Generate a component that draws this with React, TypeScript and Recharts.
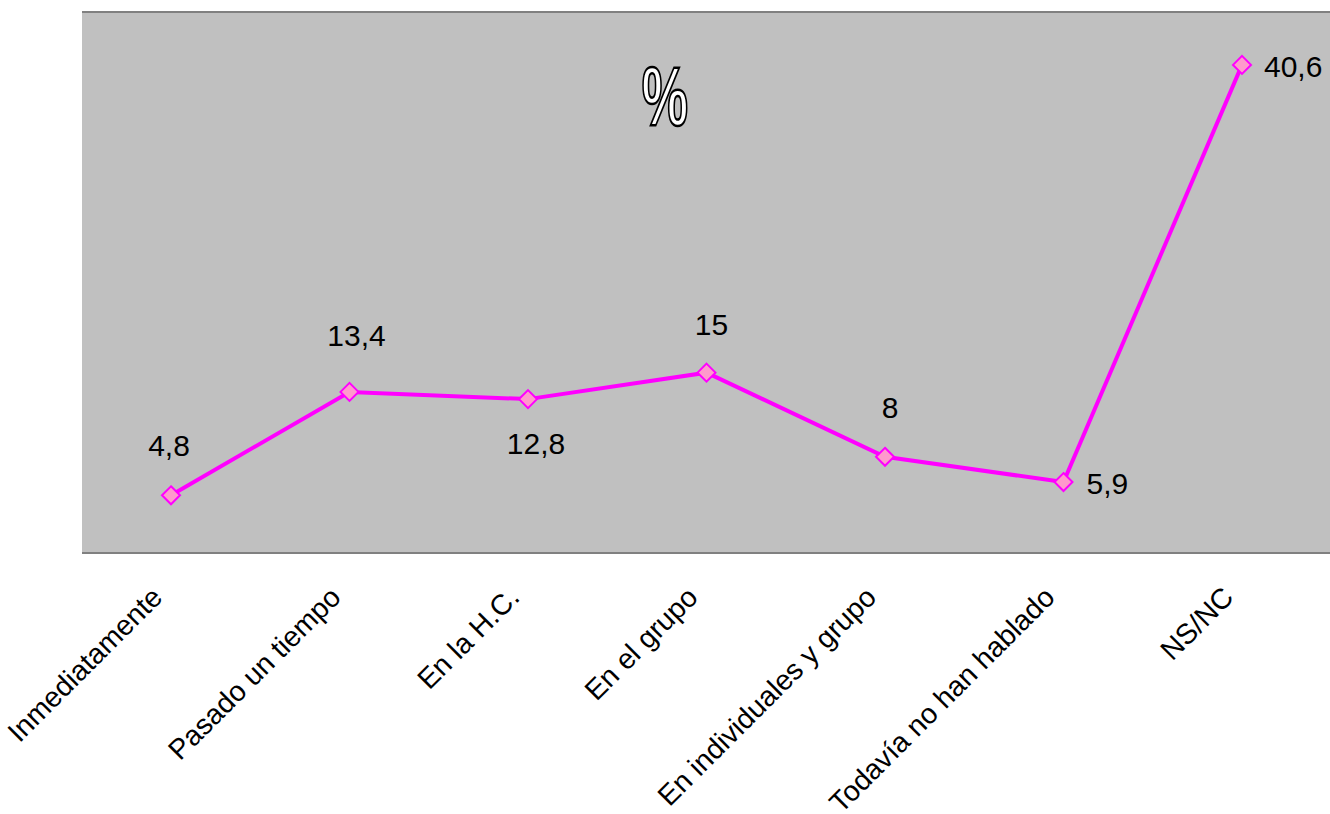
import { LineChart, Line, XAxis, YAxis, CartesianGrid, LabelList, ReferenceLine } from 'recharts'

const categories = [
  'Inmediatamente',
  'Pasado un tiempo',
  'En la H.C.',
  'En el grupo',
  'En individuales y grupo',
  'Todavía no han hablado',
  'NS/NC',
]
const values = [4.8, 13.4, 12.8, 15, 8, 5.9, 40.6]
const valueLabels = ['4,8', '13,4', '12,8', '15', '8', '5,9', '40,6']

// where each value label sits relative to its point
const labelOffsets = [
  { dx: -2, dy: -39, anchor: 'middle' },
  { dx: 7, dy: -46, anchor: 'middle' },
  { dx: 8, dy: 55, anchor: 'middle' },
  { dx: 5, dy: -38, anchor: 'middle' },
  { dx: 5, dy: -39, anchor: 'middle' },
  { dx: 23, dy: 12, anchor: 'start' },
  { dx: 22, dy: 12, anchor: 'start' },
]

const data = categories.map((name, i) => ({ name, value: values[i], label: valueLabels[i] }))

const FONT = '"Liberation Sans", Arial, sans-serif'

const Diamond = (props: any) => {
  const { cx, cy } = props
  if (cx == null || cy == null) return null
  const r = 9
  return (
    <path
      d={`M${cx},${cy - r} L${cx + r},${cy} L${cx},${cy + r} L${cx - r},${cy} Z`}
      fill="#FF99CC"
      stroke="#FF00FF"
      strokeWidth={2}
    />
  )
}

const AxisTick = (props: any) => {
  const { x, y, payload } = props
  return (
    <text
      transform={`translate(${x - 7},${y + 44}) rotate(-45)`}
      textAnchor="end"
      fontFamily={FONT}
      fontSize={28.5}
      fill="#000"
    >
      {payload.value}
    </text>
  )
}

const ValueLabel = (props: any) => {
  const { x, y, index, value } = props
  const o = labelOffsets[index]
  return (
    <text
      x={x + o.dx}
      y={y + o.dy}
      textAnchor={o.anchor}
      fontFamily={FONT}
      fontSize={30}
      fill="#000"
    >
      {value}
    </text>
  )
}

export default function App() {
  return (
    <div style={{ position: 'absolute', left: 0, top: 0, width: 1330, height: 814, background: '#fff', overflow: 'hidden' }}>
      <LineChart width={1330} height={814} data={data} margin={{ top: 12, right: 0, bottom: 0, left: 82 }}>
        <CartesianGrid horizontal={false} vertical={false} fill="#C0C0C0" />
        <XAxis
          dataKey="name"
          height={261}
          padding={{ left: 89, right: 88 }}
          axisLine={{ stroke: '#808080', strokeWidth: 2 }}
          tickLine={false}
          tickSize={0}
          interval={0}
          tick={<AxisTick />}
        />
        <YAxis
          domain={[0, 45]}
          width={0}
          tick={false}
          tickLine={false}
          axisLine={{ stroke: '#808080', strokeWidth: 2 }}
        />
        <ReferenceLine y={45} stroke="#808080" strokeWidth={2} />
        <Line
          dataKey="value"
          stroke="#FF00FF"
          strokeWidth={4}
          dot={<Diamond />}
          activeDot={false}
          isAnimationActive={false}
        >
          <LabelList dataKey="label" content={<ValueLabel />} />
        </Line>
      </LineChart>
      <div
        style={{
          position: 'absolute',
          left: 615,
          top: 46,
          width: 100,
          textAlign: 'center',
          fontFamily: FONT,
          fontWeight: 'bold',
          fontSize: 84,
          lineHeight: '100px',
          color: '#fff',
          WebkitTextStroke: '2.5px #000',
          transform: 'scaleX(0.62)',
        }}
      >
        %
      </div>
    </div>
  )
}
